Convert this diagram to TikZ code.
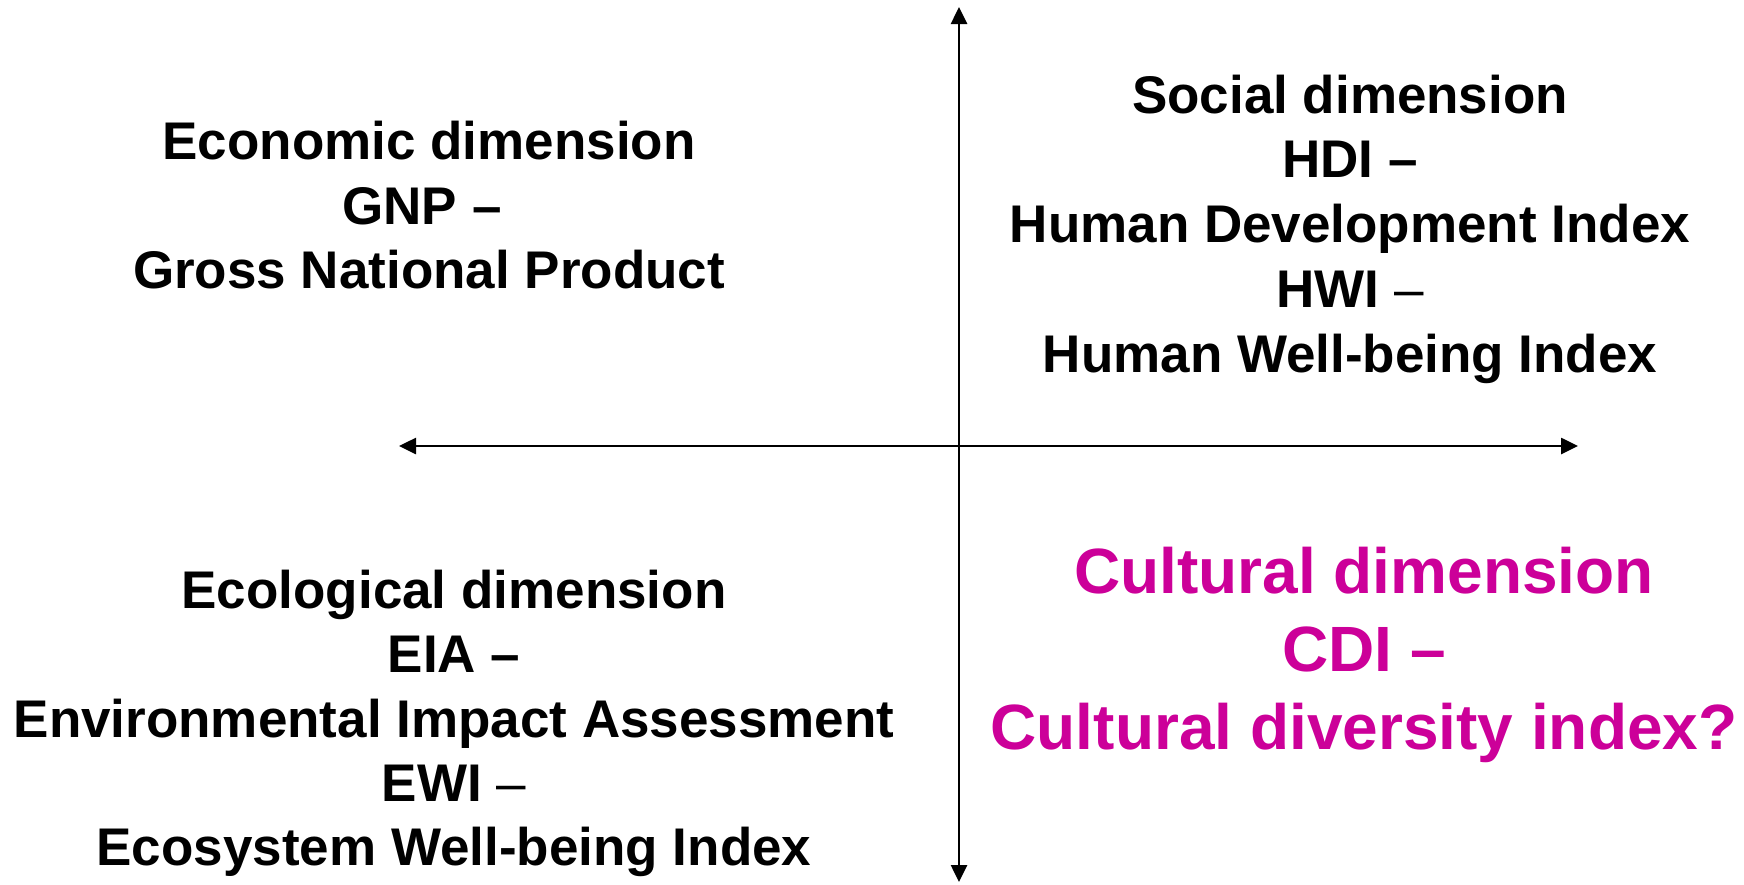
\documentclass[tikz,border=0pt]{standalone}
\usepackage{fontspec}
\setmainfont{Liberation Sans}
\usetikzlibrary{arrows.meta}
\definecolor{culturalpink}{RGB}{204,0,153}
\tikzset{
  axis/.style={line width=2.6pt, {Triangle[length=17pt,width=16pt]}-{Triangle[length=17pt,width=16pt]}},
  lbl/.style={anchor=base, inner sep=0pt, font=\fontsize{53}{64}\selectfont\bfseries},
  clbl/.style={anchor=base, inner sep=0pt, text=culturalpink, font=\fontsize{64}{77}\selectfont\bfseries}
}
\begin{document}
\begin{tikzpicture}[x=1pt,y=-1pt]
\useasboundingbox (0,0) rectangle (1744,884);
\coordinate (top) at (959,7);
\coordinate (bottom) at (959,882);
\coordinate (left) at (399,446);
\coordinate (right) at (1578,446);
\draw[axis] (bottom) -- (top);
\draw[axis] (left) -- (right);
% Economic
\node[lbl] (e1) at (429,159) {Economic dimension};
\node[lbl] (e2) at (422,224) {GNP –};
\node[lbl] (e3) at (429,288) {Gross National Product};
% Social
\node[lbl] (s1) at (1350,113) {Social dimension};
\node[lbl] (s2) at (1350,177) {HDI –};
\node[lbl] (s3) at (1350,242) {Human Development Index};
\node[lbl] (s4) at (1350,307) {HWI \textmd{–}};
\node[lbl] (s5) at (1350,372) {Human Well-being Index};
% Ecological
\node[lbl] (g1) at (454,608) {Ecological dimension};
\node[lbl] (g2) at (454,672) {EIA –};
\node[lbl] (g3) at (454,737) {Environmental Impact Assessment};
\node[lbl] (g4) at (454,801) {EWI \textmd{–}};
\node[lbl] (g5) at (454,865) {Ecosystem Well-being Index};
% Cultural
\node[clbl] (c1) at (1364,593) {Cultural dimension};
\node[clbl] (c2) at (1364,671) {CDI –};
\node[clbl] (c3) at (1364,749) {Cultural diversity index?};
\end{tikzpicture}
\end{document}
